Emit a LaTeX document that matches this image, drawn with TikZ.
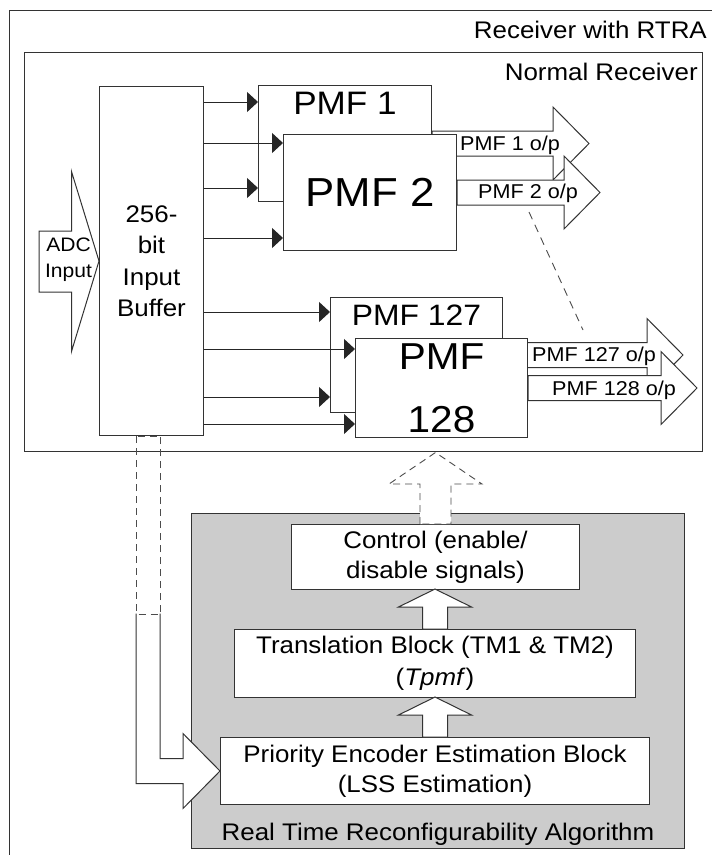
\documentclass[tikz,border=0pt]{standalone}
\usepackage{fontspec}
\setmainfont{Liberation Sans}[FakeStretch=1.08]
\usetikzlibrary{arrows.meta,positioning}
\newcommand{\fsz}[2]{\fontsize{#1}{#2}\selectfont}
\tikzset{
  box/.style={draw=black!80, fill=white, line width=1pt, inner sep=0pt, anchor=north west, align=center},
  hollow/.style={draw=black!80, fill=white, line width=1pt, line join=miter},
  feed/.style={draw=black!85, line width=1pt, -{Triangle[length=11pt,width=20pt]}},
  dashbox/.style={draw=black!70, line width=0.9pt, dash pattern=on 7pt off 5pt},
  txt/.style={inner sep=0pt, font=\fsz{24}{31}, align=center},
  oplbl/.style={inner sep=0pt, font=\fsz{20}{24}, anchor=base west},
}
% hollow output arrow leaving the east side of a node
\newcommand{\oparrow}[2]{%
  \filldraw[hollow] (#1.east) ++(0,-12.5) -- ++(#2,0) -- ++(0,-24) -- ++(36,36.5)
    -- ++(-36,36.5) -- ++(0,-24) -- ++(-#2,0) -- cycle;}
% hollow up arrow standing on the north side of a node
\newcommand{\uparrowblk}[1]{%
  \filldraw[hollow] (#1.north) ++(-12.5,0) -- ++(0,-22) -- ++(-24,0) -- ++(36.5,-18)
    -- ++(36.5,18) -- ++(-24,0) -- ++(0,22) -- cycle;}

\begin{document}
\begin{tikzpicture}[x=1pt,y=-1pt]
  \useasboundingbox (0,0) rectangle (712,855);
  \clip (0,0) rectangle (712,855);
  \fill[white] (0,0) rectangle (712,855);

  % receiver with RTRA
  \draw[draw=black!80, line width=1pt] (9,10) rectangle (730,880);
  \node[txt, anchor=base east] (rxlbl) at (707,38) {Receiver with RTRA};

  % normal receiver
  \node[box, fill=none, minimum width=678pt, minimum height=399pt] (nrx) at (24,52) {};
  \node[txt, anchor=base east] (nrxlbl) at (698,80) {Normal Receiver};

  \node[box, minimum width=104pt, minimum height=349pt, font=\fsz{24}{31.5}] (buf) at (99,86)
    {256-\\bit\\Input\\Buffer};

  \filldraw[hollow] (buf.west) -- ++(-27.5,-89.5) -- ++(0,59.5) -- ++(-32.5,0) -- ++(0,61)
    -- ++(32.5,0) -- ++(0,59.5) -- cycle;
  \node[txt, font=\fsz{19.5}{26}] (adc) at (68.5,259.5) {ADC\\Input};

  % matched filters
  \node[box, minimum width=173pt, minimum height=116pt,
    label={[txt, font=\fsz{32.5}{39}, anchor=north, yshift=-7pt]north:PMF 1}] (pmfa) at (258,85) {};
  \oparrow{pmfa}{121}
  \node[oplbl] (opa) at (460,150) {PMF 1 o/p};
  \node[box, minimum width=173pt, minimum height=116pt, font=\fsz{40.5}{48}] (pmfb) at (283,134) {PMF 2};
  \oparrow{pmfb}{107}
  \node[oplbl] (opb) at (478,198) {PMF 2 o/p};

  \node[box, minimum width=172pt, minimum height=115pt,
    label={[txt, font=\fsz{29.5}{35}, anchor=north, yshift=-8pt]north:PMF 127}] (pmfc) at (330,297) {};
  \oparrow{pmfc}{144}
  \node[oplbl] (opc) at (532,361.5) {PMF 127 o/p};
  \node[box, minimum width=172pt, minimum height=99pt, font=\fsz{37.5}{63}] (pmfd) at (355,338) {PMF\\128};
  \oparrow{pmfd}{133}
  \node[oplbl] (opd) at (552,395) {PMF 128 o/p};

  \foreach \y/\t in {102/pmfa,143/pmfb,188/pmfa,238/pmfb,312/pmfc,349/pmfd,397/pmfc,424/pmfd}{
    \coordinate (h) at (0,\y);
    \draw[feed] (buf.east |- h) -- (\t.west |- h);
  }

  \coordinate (gap1) at (529,212);
  \coordinate (gap2) at (583,330);
  \draw[dashbox, dash pattern=on 8pt off 6pt] (gap1) -- (gap2);

  % reconfigurability algorithm
  \node[box, fill=black!20, minimum width=493pt, minimum height=335pt] (rtra) at (191,513) {};
  \node[txt, anchor=base] (rtralbl) at (rtra.center |- 0,840) {Real Time Reconfigurability Algorithm};

  \node[box, minimum width=288pt, minimum height=65pt, font=\fsz{24}{30}] (ctrl) at (291,524)
    {Control (enable/\\disable signals)};
  \filldraw[hollow, dashbox] (ctrl.north) ++(-15.5,0) -- ++(0,-40) -- ++(-31,0) -- ++(46.5,-31.5)
    -- ++(46.5,31.5) -- ++(-31,0) -- ++(0,40) -- cycle;
  \node[box, minimum width=401pt, minimum height=68pt, font=\fsz{24}{32}] (trans) at (234,629)
    {Translation Block (TM1 \& TM2)\\(\textit{Tpmf})};
  \node[box, minimum width=429pt, minimum height=67pt, font=\fsz{24}{30}] (prio) at (220,737)
    {Priority Encoder Estimation Block\\(LSS Estimation)};
  \uparrowblk{trans}
  \uparrowblk{prio}

  % buffer output into the estimation block
  \fill[white] (prio.west) -- ++(-37,-37.5) -- ++(0,25) -- ++(-23,0) -- ++(0,-145)
    -- ++(-24,0) -- ++(0,170) -- ++(47,0) -- ++(0,25) -- cycle;
  \draw[hollow, fill=none] (prio.west) -- ++(-37,-37.5) -- ++(0,25) -- ++(-23,0) -- ++(0,-145)
    ++(-24,0) -- ++(0,170) -- ++(47,0) -- ++(0,25) -- (prio.west);
  \draw[dashbox] ([xshift=-15pt]buf.south) rectangle ++(24,178);
\end{tikzpicture}
\end{document}
